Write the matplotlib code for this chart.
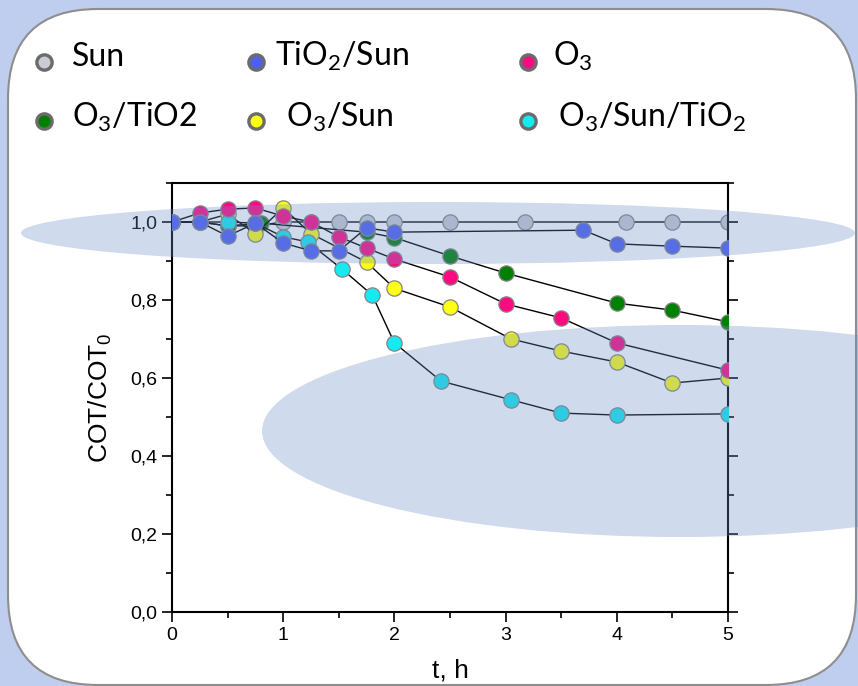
#!/usr/bin/env python3

import matplotlib
matplotlib.use("Agg")
import matplotlib.pyplot as plt
from matplotlib.patches import Ellipse, FancyBboxPatch
from matplotlib.ticker import MultipleLocator, FuncFormatter

# series: time in hours, COT/COT0
t_sun = [0, 0.25, 0.5, 0.75, 1.0, 1.25, 1.5, 1.75, 2.0, 2.5, 3.17, 4.08, 4.5, 5.0]
y_sun = [1.0, 1.0, 0.99, 0.99, 1.0, 1.0, 1.0, 1.0, 1.0, 1.0, 1.0, 1.0, 1.0, 1.0]

t_tio2_sun = [0, 0.25, 0.5, 0.75, 1.0, 1.25, 1.5, 1.75, 2.0, 3.7, 4.0, 4.5, 5.0]
y_tio2_sun = [1.0, 1.0, 0.964, 0.997, 0.946, 0.926, 0.926, 0.985, 0.974, 0.979, 0.944, 0.938, 0.933]

t_o3 = [0, 0.25, 0.5, 0.75, 1.0, 1.25, 1.5, 1.75, 2.0, 2.5, 3.0, 3.5, 4.0, 5.0]
y_o3 = [1.0, 1.023, 1.033, 1.036, 1.015, 1.0, 0.962, 0.933, 0.905, 0.859, 0.79, 0.754, 0.69, 0.62]

t_o3_tio2 = [0, 0.25, 0.5, 0.8, 1.75, 2.0, 2.5, 3.0, 4.0, 4.5, 5.0]
y_o3_tio2 = [1.0, 1.0, 0.99, 0.997, 0.974, 0.96, 0.913, 0.869, 0.792, 0.774, 0.744]

t_o3_sun = [0, 0.25, 0.5, 0.75, 1.0, 1.25, 1.75, 2.0, 2.5, 3.05, 3.5, 4.0, 4.5, 5.0]
y_o3_sun = [1.0, 1.0, 1.02, 0.97, 1.036, 0.97, 0.897, 0.83, 0.782, 0.70, 0.669, 0.641, 0.587, 0.60]

t_o3_sun_tio2 = [0, 0.25, 0.5, 0.75, 1.0, 1.22, 1.53, 1.8, 2.0, 2.42, 3.05, 3.5, 4.0, 5.0]
y_o3_sun_tio2 = [1.0, 1.0, 1.0, 0.997, 0.962, 0.949, 0.879, 0.813, 0.69, 0.592, 0.544, 0.51, 0.505, 0.508]

labels = ["Sun", r"TiO$_2$/Sun", r"O$_3$", r"O$_3$/TiO2", r" O$_3$/Sun", r" O$_3$/Sun/TiO$_2$"]
colors = ["#c9ccd2", "#4f5ff2", "#ff0a80", "#008000", "#ffff14", "#14eaf0"]


def main() -> None:
    plt.rcParams["mathtext.fontset"] = "custom"
    plt.rcParams["mathtext.rm"] = "Lato"
    plt.rcParams["mathtext.sf"] = "Liberation Sans"
    plt.rcParams["font.family"] = "Liberation Sans"

    fig = plt.figure(figsize=(8.58, 6.86), dpi=100)
    fig.patch.set_facecolor("#bfcdee")

    # background panel, pixel coords
    bg = fig.add_axes([0, 0, 1, 1], zorder=0)
    bg.set_xlim(0, 858)
    bg.set_ylim(686, 0)
    bg.axis("off")
    panel = FancyBboxPatch((8, 9), 848, 676, boxstyle="round,pad=0,rounding_size=90",
                           facecolor="white", edgecolor="#8e8e8e", linewidth=1.5)
    bg.add_patch(panel)

    # legend drawn by hand like the slide
    leg_mx = [44, 256, 528, 44, 256, 528]
    leg_tx = [72, 275, 553, 72, 278, 550]
    leg_y = [62, 62, 62, 121, 121, 121]
    leg_base = [66, 66, 66, 127, 127, 127]
    for i, lab in enumerate(labels):
        bg.plot(leg_mx[i], leg_y[i], "o", ms=11, mfc=colors[i], mec="#6b6b6b", mew=2.4)
        bg.text(leg_tx[i], leg_base[i], lab, fontsize=23, family="Lato", va="baseline", ha="left")

    ax = fig.add_axes([172 / 858, 74 / 686, 556 / 858, 429 / 686], zorder=2)
    ax.patch.set_alpha(0)

    series = [
        (t_sun, y_sun, 2),
        (t_tio2_sun, y_tio2_sun, 7),
        (t_o3, y_o3, 6),
        (t_o3_tio2, y_o3_tio2, 3),
        (t_o3_sun, y_o3_sun, 4),
        (t_o3_sun_tio2, y_o3_sun_tio2, 5),
    ]
    for (t, y, z), c in zip(series, colors):
        ax.plot(t, y, "-", color="black", lw=1.0, zorder=z)
        ax.plot(t, y, "o", ms=11, mfc=c, mec="#858585", mew=0.9, zorder=z + 0.5)

    ax.set_xlim(0, 5)
    ax.set_ylim(0, 1.1)
    ax.xaxis.set_major_locator(MultipleLocator(1))
    ax.xaxis.set_minor_locator(MultipleLocator(0.5))
    ax.yaxis.set_major_locator(MultipleLocator(0.2))
    ax.yaxis.set_minor_locator(MultipleLocator(0.1))
    ax.yaxis.set_major_formatter(FuncFormatter(lambda v, p: f"{v:.1f}".replace(".", ",")))
    ax.tick_params(which="both", direction="out", right=True, labelsize=14, width=1.2)
    ax.tick_params(which="major", length=7)
    ax.tick_params(which="minor", length=4)
    for s in ax.spines.values():
        s.set_linewidth(1.5)

    ax.set_xlabel("t, h", fontsize=19, labelpad=11)
    ax.set_ylabel(r"COT/COT$_\mathsf{0}$", fontsize=19, labelpad=12)

    # translucent highlight ellipses on top
    ov = fig.add_axes([0, 0, 1, 1], zorder=10)
    ov.set_xlim(0, 858)
    ov.set_ylim(686, 0)
    ov.axis("off")
    ov.patch.set_alpha(0)
    ov.add_patch(Ellipse((438, 233), 834, 62, facecolor="#6a8cc8", edgecolor="none", alpha=0.32))
    ov.add_patch(Ellipse((680, 431), 836, 212, facecolor="#6a8cc8", edgecolor="none", alpha=0.32))

    plt.savefig("out.png", dpi=100)

    return


if __name__ == "__main__":
    main()
